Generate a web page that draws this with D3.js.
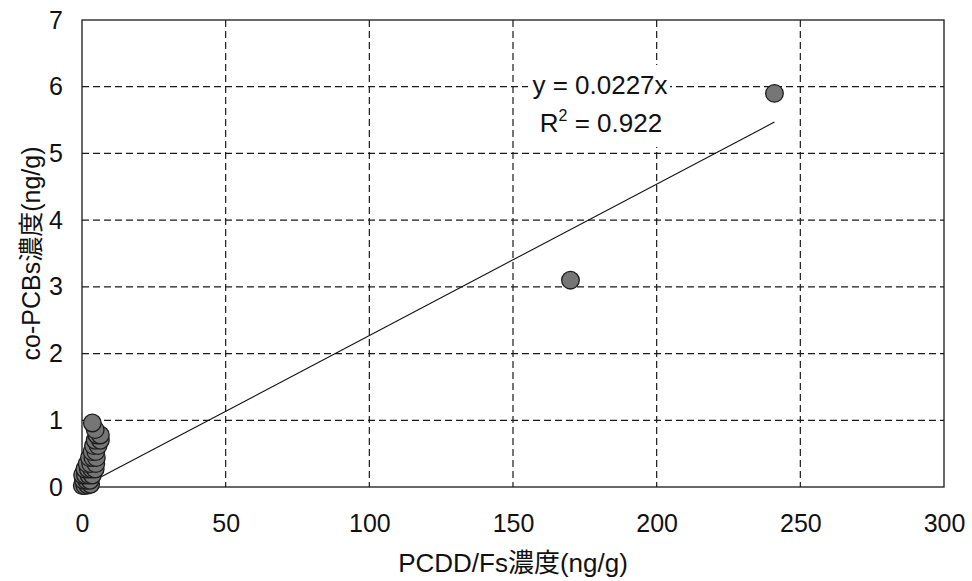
<!DOCTYPE html>
<html>
<head>
<meta charset="utf-8">
<script src="https://cdn.jsdelivr.net/npm/d3@7"></script>
<style>
  html, body { margin: 0; padding: 0; background: #fff; }
  svg { display: block; }
  text { font-family: "Liberation Sans", Arial, "Noto Sans CJK JP", sans-serif; fill: #111; }
</style>
</head>
<body>
<svg id="chart" width="972" height="581"></svg>
<script>
// PCDD/Fs vs co-PCBs concentrations (ng/g)
const pcddValues = [
  0.1, 1.0, 2.0, 3.0,
  0.5, 1.6, 2.8,
  0.2, 1.2, 2.4, 3.6,
  1.0, 2.2, 3.4, 4.6,
  1.8, 3.0, 4.8,
  2.6, 3.8, 5.0,
  3.5, 4.8,
  4.0, 5.6,
  4.6, 6.4,
  5.2, 6.4,
  4.6,
  3.6,
  170, 241
];
const pcbValues = [
  0.02, 0.02, 0.03, 0.04,
  0.10, 0.10, 0.10,
  0.18, 0.18, 0.18, 0.18,
  0.27, 0.27, 0.27, 0.27,
  0.35, 0.35, 0.35,
  0.44, 0.44, 0.44,
  0.53, 0.53,
  0.62, 0.62,
  0.70, 0.70,
  0.78, 0.78,
  0.86,
  0.96,
  3.1, 5.9
];
const xTicks = [0, 50, 100, 150, 200, 250, 300];
const yTicks = [0, 1, 2, 3, 4, 5, 6, 7];
const slope = 0.0227;
const rSquared = 0.922;
const xTitle = "PCDD/Fs濃度(ng/g)";
const yTitle = "co-PCBs濃度(ng/g)";

const svg = d3.select("#chart");
const plot = { left: 82, right: 944, top: 20, bottom: 487 };

const x = d3.scaleLinear().domain([0, 300]).range([plot.left, plot.right]);
const y = d3.scaleLinear().domain([0, 7]).range([plot.bottom, plot.top]);

// dashed grid
svg.append("g").selectAll("line")
  .data(xTicks.slice(1, -1)).join("line")
  .attr("x1", d => x(d)).attr("x2", d => x(d))
  .attr("y1", plot.top).attr("y2", plot.bottom)
  .attr("stroke", "#1a1a1a").attr("stroke-width", 1.2).attr("stroke-dasharray", "7,4");
svg.append("g").selectAll("line")
  .data(yTicks.slice(1, -1)).join("line")
  .attr("x1", plot.left).attr("x2", plot.right)
  .attr("y1", d => y(d)).attr("y2", d => y(d))
  .attr("stroke", "#1a1a1a").attr("stroke-width", 1.2).attr("stroke-dasharray", "7,4");

// plot frame
svg.append("rect")
  .attr("x", plot.left).attr("y", plot.top)
  .attr("width", plot.right - plot.left).attr("height", plot.bottom - plot.top)
  .attr("fill", "none").attr("stroke", "#1a1a1a").attr("stroke-width", 1.3);

// axis tick labels
const xAxis = d3.axisBottom(x).tickValues(xTicks).tickSize(0).tickPadding(27).tickFormat(d3.format("d"));
const gx = svg.append("g").attr("transform", `translate(0,${plot.bottom})`).call(xAxis);
gx.select(".domain").remove();
gx.selectAll("text").attr("font-size", 25).attr("font-family", "Liberation Sans, Arial, sans-serif").attr("fill", "#111");

const yAxis = d3.axisLeft(y).tickValues(yTicks).tickSize(0).tickPadding(19).tickFormat(d3.format("d"));
const gy = svg.append("g").attr("transform", `translate(${plot.left},0)`).call(yAxis);
gy.select(".domain").remove();
gy.selectAll("text").attr("font-size", 25).attr("font-family", "Liberation Sans, Arial, sans-serif").attr("fill", "#111");

// linear trendline through origin over the data range
const xMin = d3.min(pcddValues), xMax = d3.max(pcddValues);
svg.append("line")
  .attr("x1", x(xMin)).attr("y1", y(slope * xMin))
  .attr("x2", x(xMax)).attr("y2", y(slope * xMax))
  .attr("stroke", "#111").attr("stroke-width", 1.1);

// points
const pts = pcddValues.map((v, i) => [v, pcbValues[i]]);
svg.append("g").selectAll("circle").data(pts).join("circle")
  .attr("cx", d => x(d[0])).attr("cy", d => y(d[1]))
  .attr("r", 8.8)
  .attr("fill", "#767676").attr("stroke", "#1c1c1c").attr("stroke-width", 1.3);

// regression label on a white box
svg.append("rect").attr("x", 528).attr("y", 65).attr("width", 142).attr("height", 82).attr("fill", "#fff");
const eq = svg.append("text").attr("text-anchor", "middle").attr("font-size", 26);
eq.append("tspan").attr("x", 600).attr("y", 94).text(`y = ${slope}x`);
const r2 = svg.append("text").attr("text-anchor", "middle").attr("font-size", 26).attr("x", 601).attr("y", 132);
r2.append("tspan").text("R");
r2.append("tspan").attr("font-size", 16).attr("dy", -11).text("2");
r2.append("tspan").attr("dy", 11).text(` = ${rSquared}`);

// axis titles
svg.append("text").attr("x", 513).attr("y", 572)
  .attr("text-anchor", "middle").attr("font-size", 26).text(xTitle);
svg.append("text")
  .attr("transform", `translate(40,${(plot.top + plot.bottom) / 2}) rotate(-90)`)
  .attr("text-anchor", "middle").attr("font-size", 25).text(yTitle);
</script>
</body>
</html>
